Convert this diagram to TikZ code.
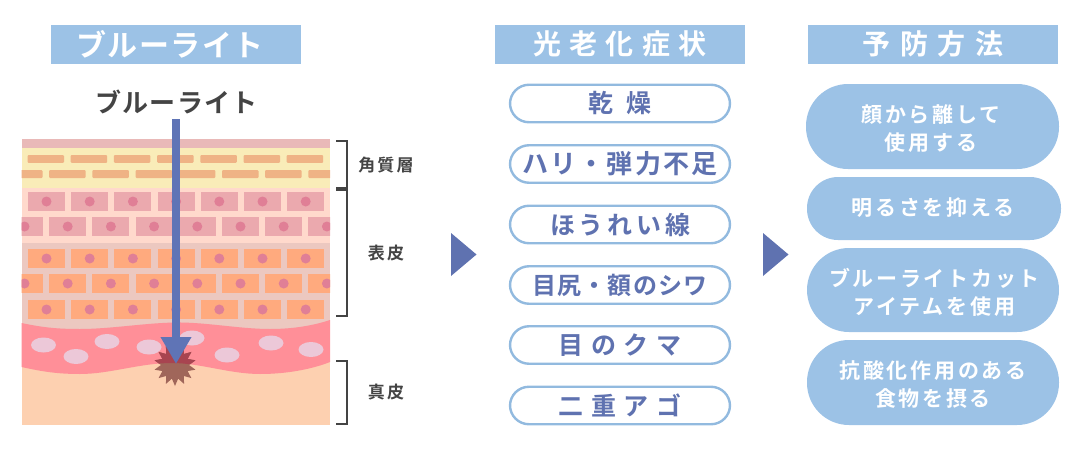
\documentclass[tikz,border=0pt]{standalone}
\usepackage{fontspec}
\usetikzlibrary{shapes.geometric,arrows.meta}
\setmainfont{Noto Sans CJK JP}
\newfontfamily\jpa[LetterSpace=15]{Noto Sans CJK JP Bold}
\newfontfamily\jpb[LetterSpace=30]{Noto Sans CJK JP Bold}
\newfontfamily\jpc[LetterSpace=13]{Noto Sans CJK JP Bold}
\newfontfamily\jpd[LetterSpace=34]{Noto Sans CJK JP Bold}
\newfontfamily\jpe[LetterSpace=8]{Noto Sans CJK JP Bold}
\newfontfamily\jpf[LetterSpace=12]{Noto Sans CJK JP Bold}
\newfontfamily\jpg[LetterSpace=5]{Noto Sans CJK JP Bold}
\newfontfamily\jph[LetterSpace=50]{Noto Sans CJK JP Bold}
\definecolor{hdr}{HTML}{9CC2E6}
\definecolor{pillline}{HTML}{92BADF}
\definecolor{ink}{HTML}{5F72B0}
\definecolor{dark}{HTML}{444444}
\definecolor{arrowblue}{HTML}{5F74B6}
\definecolor{toplayer}{HTML}{E9B9B8}
\definecolor{yellowlayer}{HTML}{F9ECB8}
\definecolor{bar}{HTML}{EFB385}
\definecolor{celllayer}{HTML}{FFD9CC}
\definecolor{cellpink}{HTML}{EBA9AE}
\definecolor{dot}{HTML}{E07F96}
\definecolor{band}{HTML}{ECC8C0}
\definecolor{cellorange}{HTML}{FFAA7E}
\definecolor{pinklayer}{HTML}{FF8F98}
\definecolor{dermis}{HTML}{FDD0B0}
\definecolor{blob}{HTML}{ECC8D8}
\definecolor{starbrown}{HTML}{A0665A}
\definecolor{starred}{HTML}{A84450}
\tikzset{
  x=1pt,y=-1pt,
  header/.style={fill=hdr,draw=none,minimum width=250pt,minimum height=39pt,inner sep=0pt},
  headertext/.style={text=white,inner sep=0pt},
  symptom/.style={draw=pillline,line width=2.4pt,fill=white,rounded corners=19pt,minimum width=220pt,minimum height=37.5pt,inner sep=0pt,text=ink},
  remedy/.style={fill=hdr,rounded corners=31pt,inner sep=0pt},
  remedytext/.style={inner sep=0pt,text=white,align=center,font=\fontsize{21}{28}\selectfont\jpc},
  bracketline/.style={draw=dark,line width=2pt},
  nextarrow/.style={fill=ink,draw=none},
  layerlabel/.style={text=dark,inner sep=0pt,font=\fontsize{17}{20}\selectfont\jpf},
  burst/.style={star,star points=14,star point ratio=1.5,minimum size=42pt,inner sep=0pt,draw=none},
}
\newcommand{\pinkpath}{(21.5,323) .. controls (45,328) and (60,329) .. (80,329) .. controls (110,329) and (145,323) .. (175,322.5) .. controls (205,322) and (240,329) .. (270,329) .. controls (295,329) and (315,325) .. (330,320) -- (330,362) .. controls (315,368) and (290,374) .. (260,374) .. controls (230,374) and (200,363) .. (172,363) .. controls (140,363) and (110,374) .. (80,374) .. controls (55,374) and (40,371) .. (21.5,367) -- cycle}
\begin{document}
\begin{tikzpicture}
\useasboundingbox (0,0) rectangle (1080,450);
% headers
\node[header] (h1) at (176,44.5) {};
\node[headertext] (h1t) at (170,44) {\fontsize{30}{32}\selectfont\jpg ブルーライト};
\node[header] (h2) at (620,44.5) {};
\node[headertext] (h2t) at (620,44) {\fontsize{28}{32}\selectfont\jpb 光老化症状};
\node[header] (h3) at (932.5,44.5) {};
\node[headertext] (h3t) at (933,44) {\fontsize{28}{32}\selectfont\jpd 予防方法};
\node[text=dark,inner sep=0pt] (blue) at (176.5,102) {\fontsize{26}{28}\selectfont\jpg ブルーライト};
% skin
\begin{scope}
\clip (21.5,139) rectangle (330,425);
\fill[dermis] (21.5,139) rectangle (330,425);
\fill[toplayer] (21.5,139) rectangle (330,147.5);
\fill[yellowlayer] (21.5,147.5) rectangle (330,188);
\fill[celllayer] (21.5,188) rectangle (330,243);
\fill[band] (21.5,243) rectangle (330,330);
\foreach \k in {0,...,6}{
  \fill[bar,rounded corners=1pt] ({27.5+43.2*\k},155) rectangle +(36.5,7.8);
  \fill[cellpink] ({28+43.2*\k},192) rectangle +(37,19);
  \fill[dot] ({46.5+43.2*\k},201.5) circle (5);
  \fill[cellorange] ({28+43.2*\k},249) rectangle +(37,19);
  \fill[dot] ({46.5+43.2*\k},258.5) circle (5);
  \fill[cellorange] ({28+43.2*\k},300) rectangle +(37,19);
  \fill[dot] ({46.5+43.2*\k},309.5) circle (5);
}
\foreach \k in {0,...,7}{
  \fill[bar,rounded corners=1pt] ({6+43.2*\k},170) rectangle +(36.5,8);
  \fill[cellpink] ({6+43.2*\k},217) rectangle +(37,19);
  \fill[dot] ({24.5+43.2*\k},226.5) circle (5);
  \fill[cellorange] ({6+43.2*\k},274) rectangle +(37,19);
  \fill[dot] ({24.5+43.2*\k},283.5) circle (5);
}
\fill[pinklayer] \pinkpath;
\foreach \cx/\cy in {43.5/345,76/356.5,107/341.5,149/347,192/338,227/355,271/343,311/349.5}{
  \fill[blob] (\cx,\cy) ellipse (12.5 and 7.5);
}
\end{scope}
% burst
\node[burst,fill=starbrown] (burst) at (175,365) {};
\begin{scope}
\clip \pinkpath;
\node[burst,fill=starred] (burstred) at (175,365) {};
\end{scope}
% blue light arrow
\coordinate (lightstart) at (176,119);
\coordinate (lighttip) at (176,364);
\draw[arrowblue,line width=8pt,-{Triangle[width=29pt,length=27pt]}] (lightstart) -- (lighttip);
% brackets
\coordinate (b1a) at (336,141); \coordinate (b1b) at (346.5,141);
\coordinate (b1c) at (346.5,188); \coordinate (b1d) at (336,188);
\coordinate (b2a) at (336,190); \coordinate (b2b) at (346.5,190);
\coordinate (b2c) at (346.5,316); \coordinate (b2d) at (336,316);
\coordinate (b3a) at (336,361); \coordinate (b3b) at (346.5,361);
\coordinate (b3c) at (346.5,424); \coordinate (b3d) at (336,424);
\draw[bracketline] (b1a) -- (b1b) -- (b1c) -- (b1d);
\draw[bracketline] (b2a) -- (b2b) -- (b2c) -- (b2d);
\draw[bracketline] (b3a) -- (b3b) -- (b3c) -- (b3d);
\node[layerlabel] (l1) at (386,165) {角質層};
\node[layerlabel] (l2) at (386,253) {表皮};
\node[layerlabel] (l3) at (386,392) {真皮};
% next arrows
\fill[nextarrow] (451,233) -- (476.5,254.5) -- (451,276) -- cycle;
\fill[nextarrow] (763,233) -- (788.5,254.5) -- (763,276) -- cycle;
% symptoms
\node[symptom] (s1) at (620,103.5) {\fontsize{25}{30}\selectfont\jph 乾燥};
\node[symptom] (s2) at (620,164) {\fontsize{26}{30}\selectfont\jpe ハリ・弾力不足};
\node[symptom] (s3) at (620,224.5) {\fontsize{25}{30}\selectfont\jpa ほうれい線};
\node[symptom] (s4) at (620,285) {\fontsize{24}{30}\selectfont\jpg 目尻・額のシワ};
\node[symptom] (s5) at (620,345) {\fontsize{25}{30}\selectfont\jpb 目のクマ};
\node[symptom] (s6) at (620,405.5) {\fontsize{25}{30}\selectfont\jpb 二重アゴ};
% remedies
\node[remedy,minimum width=253pt,minimum height=85pt,rounded corners=42pt] (r1) at (932.5,126.5) {};
\node[remedytext] (r1t) at (931,129) {顔から離して\\使用する};
\node[remedy,minimum width=254pt,minimum height=63pt] (r2) at (934,208.5) {};
\node[remedytext] (r2t) at (933,207.5) {明るさを抑える};
\node[remedy,minimum width=252pt,minimum height=84pt,rounded corners=42pt] (r3) at (933,290) {};
\node[remedytext] (r3t) at (934.5,292) {ブルーライトカット\\アイテムを使用};
\node[remedy,minimum width=252pt,minimum height=85pt,rounded corners=42pt] (r4) at (933,382.5) {};
\node[remedytext] (r4t) at (933,385) {抗酸化作用のある\\食物を摂る};
\end{tikzpicture}
\end{document}
